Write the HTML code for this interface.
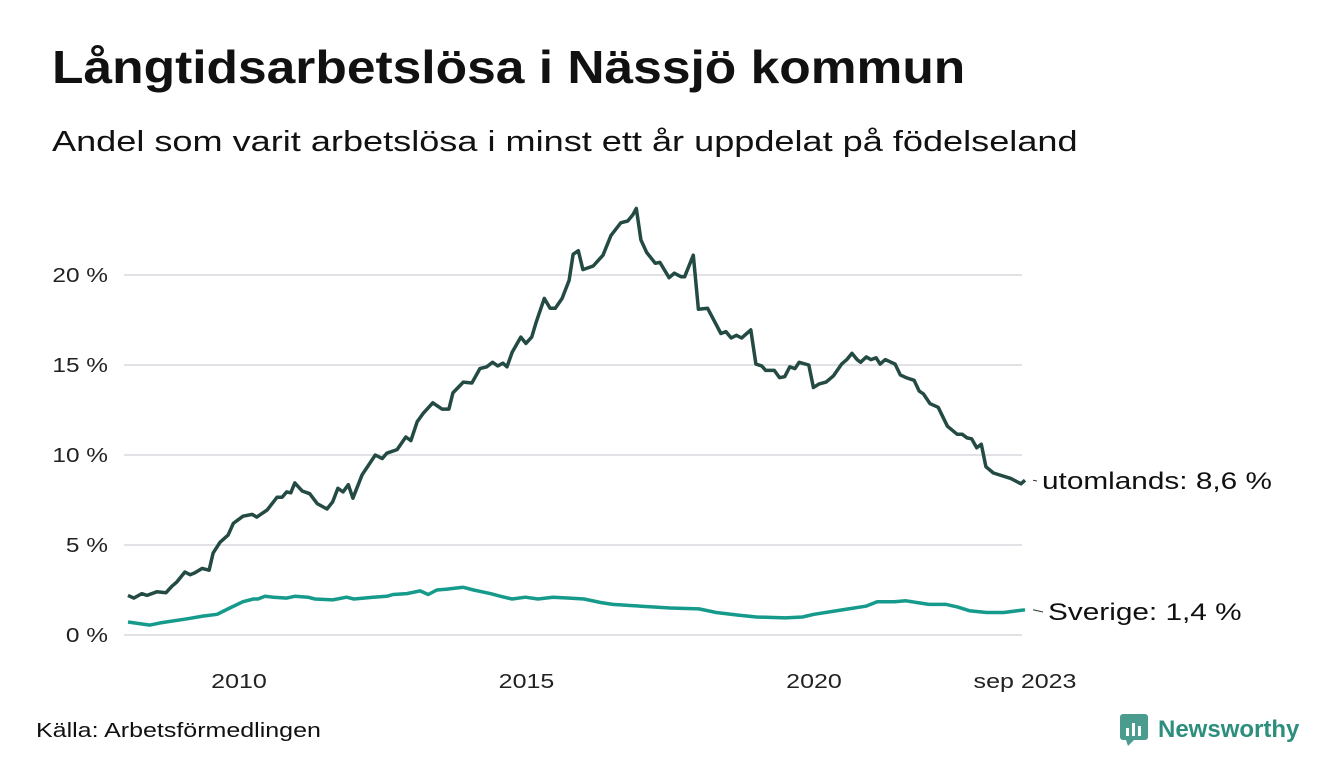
<!DOCTYPE html>
<html><head><meta charset="utf-8"><style>
body{margin:0;width:1340px;height:780px;background:#fff;font-family:"Liberation Sans",sans-serif;overflow:hidden;position:relative}
.w{display:inline-block;transform-origin:0 50%;white-space:nowrap}
h1{position:absolute;left:52px;top:40px;margin:0;font-size:46px;font-weight:bold;color:#111}
h1 .w{transform:scaleX(1.12)}
.sub{position:absolute;left:52px;top:126px;font-size:29px;color:#111}
.sub .w{transform:scaleX(1.245)}
.src{position:absolute;left:36px;top:720px;font-size:20px;color:#111}
.src .w{transform:scaleX(1.25)}
.logo{position:absolute;left:1120px;top:714px;display:flex;align-items:center;gap:8px;color:#2d8e7d;font-weight:bold;font-size:24px}
</style></head><body>
<h1><span class="w">Långtidsarbetslösa i Nässjö kommun</span></h1>
<div class="sub"><span class="w">Andel som varit arbetslösa i minst ett år uppdelat på födelseland</span></div>
<svg id="chart" width="1340" height="780" style="position:absolute;left:0;top:0"></svg>
<div class="src"><span class="w">Källa: Arbetsförmedlingen</span></div>
<div class="logo"><svg width="30" height="32"><rect x="0" y="0" width="28" height="26" rx="3" fill="#4a9d8e"/><polygon points="6,26 14,26 8,32" fill="#4a9d8e"/><rect x="6" y="14" width="3" height="8" fill="#fff"/><rect x="12" y="9" width="3" height="13" fill="#fff"/><rect x="18" y="12" width="3" height="10" fill="#fff"/></svg><span>Newsworthy</span></div>
<script>
const yTicks=[0,5,10,15,20];
const yTickLabels=["0 %","5 %","10 %","15 %","20 %"];
const xTicks=[2010,2015,2020,2023.67];
const xTickLabels=["2010","2015","2020","sep 2023"];
const abroadYears=[2008.07,2008.17,2008.31,2008.4,2008.57,2008.73,2008.83,2008.92,2009.06,2009.15,2009.23,2009.36,2009.48,2009.55,2009.67,2009.81,2009.9,2010.07,2010.23,2010.31,2010.49,2010.66,2010.75,2010.83,2010.9,2010.97,2011.1,2011.23,2011.36,2011.53,2011.63,2011.72,2011.81,2011.9,2011.98,2012.14,2012.37,2012.49,2012.57,2012.75,2012.9,2012.99,2013.1,2013.2,2013.37,2013.53,2013.65,2013.72,2013.9,2014.05,2014.19,2014.31,2014.41,2014.5,2014.59,2014.66,2014.75,2014.9,2014.99,2015.09,2015.17,2015.31,2015.41,2015.5,2015.62,2015.74,2015.81,2015.9,2015.98,2016.16,2016.33,2016.47,2016.64,2016.76,2016.85,2016.91,2016.99,2017.09,2017.24,2017.32,2017.48,2017.57,2017.69,2017.75,2017.9,2017.99,2018.15,2018.38,2018.47,2018.56,2018.65,2018.74,2018.9,2018.99,2019.09,2019.16,2019.31,2019.4,2019.49,2019.58,2019.67,2019.74,2019.91,2019.99,2020.09,2020.21,2020.34,2020.48,2020.57,2020.66,2020.75,2020.81,2020.91,2020.99,2021.08,2021.15,2021.24,2021.41,2021.5,2021.6,2021.74,2021.83,2021.9,2022.02,2022.16,2022.32,2022.49,2022.58,2022.66,2022.74,2022.83,2022.91,2022.99,2023.12,2023.42,2023.6,2023.67];
const abroadValues=[2.2,2.05,2.3,2.2,2.4,2.35,2.7,2.95,3.5,3.35,3.45,3.7,3.6,4.55,5.15,5.55,6.2,6.6,6.7,6.55,6.95,7.65,7.65,7.95,7.9,8.45,8.0,7.85,7.3,7.0,7.4,8.15,7.95,8.35,7.6,8.9,10.0,9.8,10.1,10.3,11.0,10.8,11.85,12.3,12.9,12.55,12.55,13.45,14.05,14.0,14.8,14.9,15.15,14.95,15.1,14.9,15.7,16.55,16.2,16.55,17.4,18.7,18.15,18.15,18.7,19.7,21.15,21.35,20.3,20.5,21.1,22.2,22.9,23.0,23.35,23.7,21.95,21.25,20.65,20.7,19.85,20.1,19.9,19.9,21.1,18.1,18.15,16.75,16.85,16.5,16.65,16.5,16.95,15.05,14.95,14.7,14.7,14.3,14.35,14.9,14.8,15.15,15.0,13.75,13.95,14.05,14.4,15.05,15.3,15.65,15.3,15.15,15.45,15.3,15.4,15.05,15.3,15.05,14.45,14.3,14.15,13.55,13.4,12.85,12.65,11.6,11.15,11.15,10.95,10.9,10.4,10.6,9.35,9.0,8.7,8.4,8.6];
const swedenYears=[2008.07,2008.45,2008.63,2009.1,2009.37,2009.62,2009.84,2010.07,2010.25,2010.33,2010.45,2010.6,2010.83,2010.97,2011.2,2011.32,2011.63,2011.87,2012.0,2012.33,2012.57,2012.68,2012.92,2013.15,2013.29,2013.44,2013.62,2013.9,2014.08,2014.37,2014.55,2014.75,2014.98,2015.2,2015.46,2015.75,2016.0,2016.3,2016.5,2017.0,2017.5,2018.0,2018.3,2018.7,2019.0,2019.5,2019.8,2020.0,2020.3,2020.6,2020.9,2021.1,2021.4,2021.6,2021.8,2022.0,2022.3,2022.5,2022.7,2023.0,2023.3,2023.67];
const swedenValues=[0.72,0.55,0.67,0.9,1.05,1.15,1.5,1.85,2.0,2.0,2.15,2.1,2.05,2.15,2.1,2.0,1.95,2.1,2.0,2.1,2.15,2.25,2.3,2.45,2.25,2.5,2.55,2.65,2.5,2.3,2.15,2.0,2.1,2.0,2.1,2.05,2.0,1.8,1.7,1.6,1.5,1.45,1.25,1.1,1.0,0.95,1.0,1.15,1.3,1.45,1.6,1.85,1.85,1.9,1.8,1.7,1.7,1.55,1.35,1.25,1.25,1.4];
const NS="http://www.w3.org/2000/svg";
const svg=document.getElementById('chart');
const X=y=>124+(y-2008)*57.5;
const Y=v=>635-v*18;
function mk(t,a){const e=document.createElementNS(NS,t);for(const k in a)e.setAttribute(k,a[k]);svg.appendChild(e);return e;}
function widen(el,f){const w=el.getComputedTextLength();el.setAttribute('textLength',(w*f).toFixed(1));el.setAttribute('lengthAdjust','spacingAndGlyphs');}
yTicks.forEach((t,i)=>{
 const g=mk('line',{x1:124,x2:1022,y1:Y(t),y2:Y(t),stroke:'#e1e1e6','stroke-width':2});
 
 
 const l=mk('text',{x:108,y:Y(t)+7,'text-anchor':'end','font-size':20,fill:'#222','font-family':'Liberation Sans, sans-serif'});
 l.textContent=yTickLabels[i];
 
 
 widen(l,1.22);
});
xTicks.forEach((t,i)=>{
 const l=mk('text',{x:X(t),y:688,'text-anchor':'middle','font-size':20,fill:'#222','font-family':'Liberation Sans, sans-serif'});
 l.textContent=xTickLabels[i];
 
 
 widen(l,1.25);
});
function line(xs,vs,c,name){
 const d=xs.map((x,i)=>(i?'L':'M')+X(x).toFixed(1)+','+Y(vs[i]).toFixed(1)).join('');
 const p=mk('path',{d:d,fill:'none',stroke:c,'stroke-width':3.5,'stroke-linejoin':'round'});
 
 
}
line(swedenYears,swedenValues,'#169a8b','line-sverige');
line(abroadYears,abroadValues,'#234a43','line-utomlands');
function endLabel(xs,vs,txt,name,ly,lx){
 const x=X(xs[xs.length-1]),y=Y(vs[vs.length-1]);
 mk('line',{x1:x+8,y1:y,x2:lx-5,y2:ly-8,stroke:'#333','stroke-width':1});
 const l=mk('text',{x:lx,y:ly,'font-size':24,fill:'#111','font-family':'Liberation Sans, sans-serif'});
 l.textContent=txt;
 
 
 widen(l,1.24);
}
endLabel(abroadYears,abroadValues,'utomlands: 8,6 %','label-utomlands',489,1042);
endLabel(swedenYears,swedenValues,'Sverige: 1,4 %','label-sverige',620,1048);
</script>
</body></html>
